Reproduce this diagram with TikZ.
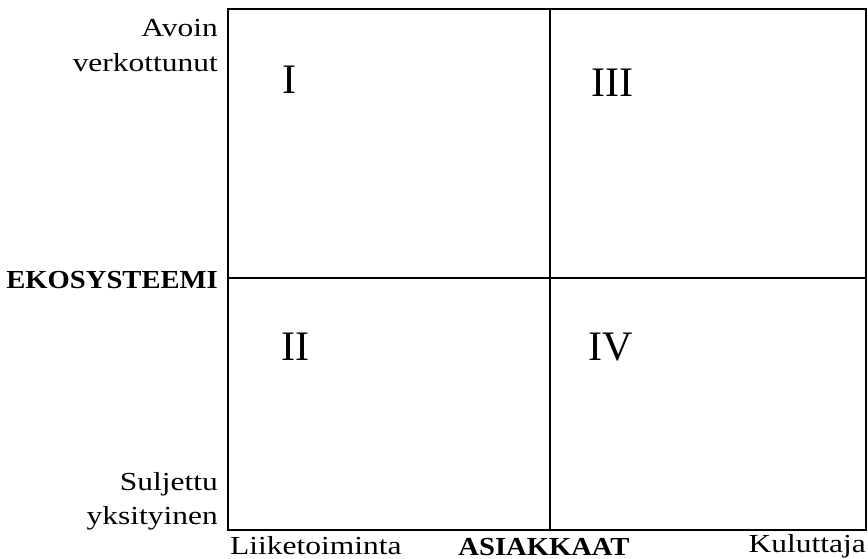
\documentclass[tikz,border=0pt]{standalone}
\usepackage{fontspec}
\setmainfont{Liberation Serif}
\newfontfamily\lblfont{Liberation Serif}[FakeStretch=1.21]
\newfontfamily\boldlblfont{Liberation Serif}[FakeStretch=1.1]
\begin{document}
\begin{tikzpicture}[x=1pt,y=-1pt,
  lbl/.style={inner sep=0pt,font=\lblfont\fontsize{26}{30}\selectfont},
  bold lbl/.style={inner sep=0pt,font=\boldlblfont\fontsize{26}{30}\selectfont\bfseries},
  numeral/.style={inner sep=0pt,anchor=base west,font=\fontsize{42}{46}\selectfont},
  outer/.style={line width=1.5pt},
  divider/.style={line width=2pt}]
\useasboundingbox (0,0) rectangle (868,559);
\coordinate (tl) at (228,9);
\coordinate (br) at (866,530);
\coordinate (mt) at (550,9);
\coordinate (mb) at (550,530);
\coordinate (ml) at (228,278);
\coordinate (mr) at (866,278);
\draw[outer] (tl) rectangle (br);
\draw[divider] (mt) -- (mb);
\draw[divider] (ml) -- (mr);
\node[lbl,anchor=base east] (avoin) at (218,37) {Avoin};
\node[lbl,anchor=base east] (verk) at (218,72) {verkottunut};
\node[bold lbl,anchor=base east] (eko) at (218,288) {EKOSYSTEEMI};
\node[lbl,anchor=base east] (sulj) at (218,490) {Suljettu};
\node[lbl,anchor=base east] (yks) at (218,524) {yksityinen};
\node[lbl,anchor=base west] (liike) at (230,554) {Liiketoiminta};
\node[bold lbl,anchor=base] (asiak) at (544,555) {ASIAKKAAT};
\node[lbl,anchor=base east] (kul) at (866,552) {Kuluttaja};
\node[numeral] (q1) at (282,94) {I};
\node[numeral] (q3) at (591,97) {III};
\node[numeral] (q2) at (281,360) {II};
\node[numeral] (q4) at (588,360) {IV};
\end{tikzpicture}
\end{document}
